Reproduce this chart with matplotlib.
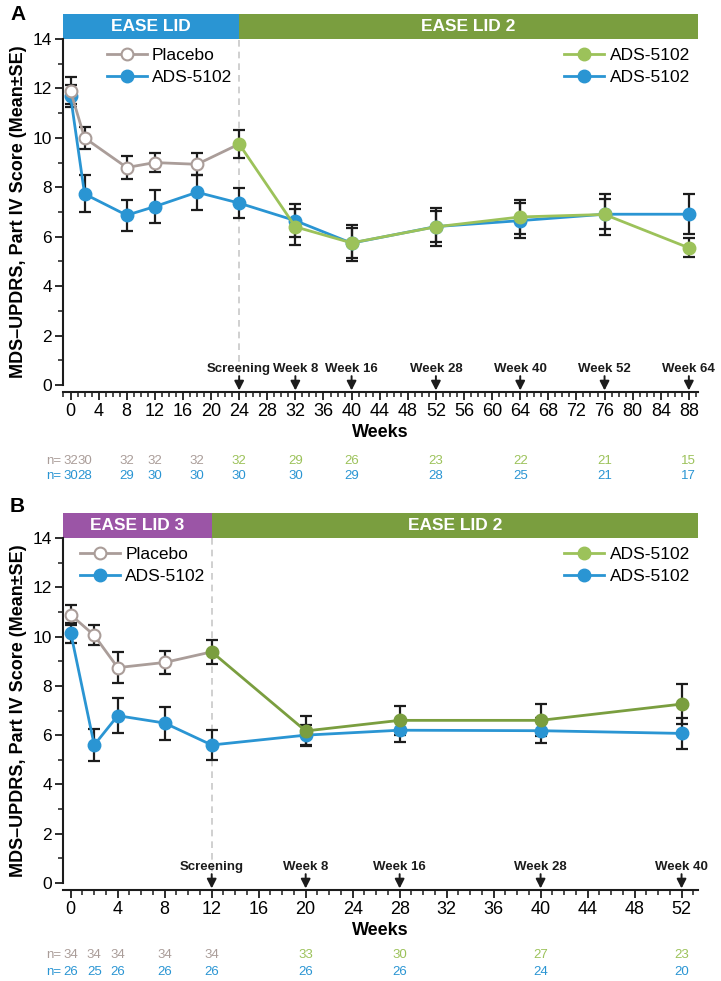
import matplotlib.pyplot as plt
from matplotlib import font_manager
from matplotlib.lines import Line2D
from matplotlib.patches import Rectangle
from matplotlib.ticker import MultipleLocator
import matplotlib.transforms as mtransforms

plt.rcParams['font.family'] = ['Liberation Sans', 'DejaVu Sans']
installed = {f.name for f in font_manager.fontManager.ttflist}
HAS_NARROW = 'Liberation Sans Narrow' in installed
NARROW = ['Liberation Sans Narrow', 'Liberation Sans', 'DejaVu Sans'] if HAS_NARROW \
    else ['Liberation Sans', 'DejaVu Sans']
N_SIZE = 11 if HAS_NARROW else 9.5

BLUE = '#2a95d3'
GREEN_LT = '#9cc25a'
GREEN_DK = '#7a9e3f'
PURPLE = '#9b55a6'
PLAC = '#aa9d99'
INK = '#1c1c1c'

# ---- Panel A: EASE LID -> EASE LID 2 ----
a_plac_wk = [0, 2, 8, 12, 18]
a_plac_val = [11.9, 10.0, 8.8, 9.0, 8.93]
a_plac_err = [0.55, 0.45, 0.45, 0.38, 0.45]
a_ext_wk = [24, 32, 40, 52, 64, 76, 88]
a_ext_val = [9.75, 6.4, 5.75, 6.4, 6.8, 6.9, 5.55]
a_ext_err = [0.55, 0.73, 0.72, 0.78, 0.7, 0.82, 0.38]
a_ads_wk = [0, 2, 8, 12, 18, 24, 32, 40, 52, 64, 76, 88]
a_ads_val = [11.7, 7.73, 6.87, 7.22, 7.8, 7.36, 6.65, 5.74, 6.41, 6.65, 6.91, 6.91]
a_ads_err = [0.45, 0.75, 0.63, 0.65, 0.7, 0.6, 0.68, 0.62, 0.62, 0.72, 0.6, 0.8]
a_marks = [24, 32, 40, 52, 64, 76, 88]
a_mark_lbl = ['Screening', 'Week 8', 'Week 16', 'Week 28', 'Week 40', 'Week 52', 'Week 64']
a_n_wk = [0, 2, 8, 12, 18, 24, 32, 40, 52, 64, 76, 88]
a_n_top = [32, 30, 32, 32, 32, 32, 29, 26, 23, 22, 21, 15]
a_n_bot = [30, 28, 29, 30, 30, 30, 30, 29, 28, 25, 21, 17]

# ---- Panel B: EASE LID 3 -> EASE LID 2 ----
b_plac_wk = [0, 2, 4, 8]
b_plac_val = [10.88, 10.05, 8.74, 8.95]
b_plac_err = [0.42, 0.4, 0.62, 0.48]
b_ext_wk = [12, 20, 28, 40, 52]
b_ext_val = [9.38, 6.17, 6.6, 6.6, 7.26]
b_ext_err = [0.5, 0.62, 0.58, 0.65, 0.82]
b_ads_wk = [0, 2, 4, 8, 12, 20, 28, 40, 52]
b_ads_val = [10.15, 5.6, 6.79, 6.49, 5.6, 6.0, 6.2, 6.18, 6.07]
b_ads_err = [0.4, 0.65, 0.7, 0.67, 0.6, 0.42, 0.47, 0.5, 0.63]
b_marks = [12, 20, 28, 40, 52]
b_mark_lbl = ['Screening', 'Week 8', 'Week 16', 'Week 28', 'Week 40']
b_n_wk = [0, 2, 4, 8, 12, 20, 28, 40, 52]
b_n_top = [34, 34, 34, 34, 34, 33, 30, 27, 23]
b_n_bot = [26, 25, 26, 26, 26, 26, 26, 24, 20]

fig = plt.figure(figsize=(7.21, 9.81), dpi=100)
W, H = 721, 981
axA = fig.add_axes([63 / W, 1 - 385 / H, 635 / W, 346 / H])
axB = fig.add_axes([63 / W, 1 - 883 / H, 635 / W, 345 / H])


def panel(ax, xlim, split, first_name, first_col, ext_col,
          plac_wk, plac_val, plac_err, ext_wk, ext_val, ext_err,
          ads_wk, ads_val, ads_err, marks, mark_lbl,
          n_wk, n_top, n_bot, n_grey, n_y, leg_x):
    ax.set_xlim(*xlim)
    ax.set_ylim(0, 14)
    eb = dict(fmt='none', ecolor=INK, elinewidth=1.6, capsize=4, capthick=1.6, zorder=2)
    ax.errorbar(ads_wk, ads_val, yerr=ads_err, **eb)
    ax.errorbar(plac_wk, plac_val, yerr=plac_err, **eb)
    ax.errorbar(ext_wk, ext_val, yerr=ext_err, **eb)

    ax.plot(ads_wk, ads_val, color=BLUE, lw=2, marker='o', ms=9, zorder=3)
    ax.plot(plac_wk + ext_wk[:1], plac_val + ext_val[:1], color=PLAC, lw=2,
            marker='o', ms=8.5, mfc='white', mec=PLAC, mew=1.5,
            markevery=list(range(len(plac_wk))), zorder=3)
    ax.plot(ext_wk, ext_val, color=ext_col, lw=2, marker='o', ms=9, zorder=4)

    ax.axvline(split, color='#c8c8c8', lw=1.2, dashes=(4, 3), zorder=1)

    # study header bars
    ax.add_patch(Rectangle((xlim[0], 14), split - xlim[0], 1.0, color=first_col,
                           clip_on=False, lw=0))
    ax.add_patch(Rectangle((split, 14), xlim[1] - split, 1.0, color=GREEN_DK,
                           clip_on=False, lw=0))
    ax.text((xlim[0] + split) / 2, 14.5, first_name, color='white', fontsize=12.5,
            fontweight='bold', ha='center', va='center')
    ax.text((split + xlim[1]) / 2, 14.5, 'EASE LID 2', color='white', fontsize=12.5,
            fontweight='bold', ha='center', va='center')

    # visit arrows
    for w, lbl in zip(marks, mark_lbl):
        ax.annotate('', xy=(w, -0.22), xytext=(w, 0.36), annotation_clip=False,
                    arrowprops=dict(arrowstyle='-|>,head_length=0.55,head_width=0.28',
                                    color=INK, lw=1.4, shrinkA=0, shrinkB=0))
        ax.text(w, 0.42, lbl, ha='center', va='bottom', fontsize=9.5,
                fontweight='bold', family=NARROW, color=INK)

    # axes styling
    for s in ['top', 'right']:
        ax.spines[s].set_visible(False)
    ax.spines['left'].set_bounds(0, 14)
    ax.spines['bottom'].set_position(('outward', 5))
    for s in ['left', 'bottom']:
        ax.spines[s].set_linewidth(1.5)
        ax.spines[s].set_color(INK)
    ax.xaxis.set_major_locator(MultipleLocator(4))
    ax.xaxis.set_minor_locator(MultipleLocator(1))
    ax.yaxis.set_major_locator(MultipleLocator(2))
    ax.yaxis.set_minor_locator(MultipleLocator(1))
    ax.tick_params(axis='both', which='major', length=6, width=1.3, color=INK)
    ax.tick_params(axis='both', which='minor', length=3.5, width=1.1, color=INK)
    ax.tick_params(axis='y', labelsize=12.5, pad=2)
    ax.tick_params(axis='x', labelsize=13, pad=2)
    for t in ax.get_xticklabels():
        t.set_family(NARROW)
    ax.set_xlabel('Weeks', fontsize=13, fontweight='bold', labelpad=3)
    ax.set_ylabel('MDS–UPDRS, Part IV Score (Mean±SE)', fontsize=13,
                  fontweight='bold')
    ax.yaxis.set_label_coords(-0.056, 0.5)

    # legends
    h_left = [Line2D([], [], color=PLAC, lw=2, marker='o', ms=8.5, mfc='white',
                     mec=PLAC, mew=1.5),
              Line2D([], [], color=BLUE, lw=2, marker='o', ms=9)]
    leg1 = ax.legend(h_left, ['Placebo', 'ADS-5102'], loc='upper left',
                     bbox_to_anchor=(leg_x, 0.975), frameon=False, fontsize=12.5,
                     handlelength=2.3, handletextpad=0.3, labelspacing=0.4,
                     borderpad=0, borderaxespad=0)
    ax.add_artist(leg1)
    h_right = [Line2D([], [], color=GREEN_LT, lw=2, marker='o', ms=9),
               Line2D([], [], color=BLUE, lw=2, marker='o', ms=9)]
    ax.legend(h_right, ['ADS-5102', 'ADS-5102'], loc='upper right',
              bbox_to_anchor=(0.987, 0.975), frameon=False, fontsize=12.5,
              handlelength=2.3, handletextpad=0.3, labelspacing=0.4,
              borderpad=0, borderaxespad=0)

    # numbers at risk
    tr = mtransforms.blended_transform_factory(ax.transData, fig.transFigure)
    y1, y2 = 1 - n_y[0] / H, 1 - n_y[1] / H
    fig.text(61 / W, y1, 'n=', color=PLAC, fontsize=N_SIZE, family=NARROW,
             ha='right', va='center')
    fig.text(61 / W, y2, 'n=', color=BLUE, fontsize=N_SIZE, family=NARROW,
             ha='right', va='center')
    for i, (w, a, b) in enumerate(zip(n_wk, n_top, n_bot)):
        c = PLAC if i < n_grey else GREEN_LT
        ax.text(w, y1, str(a), transform=tr, color=c, fontsize=N_SIZE, family=NARROW,
                ha='center', va='center')
        ax.text(w, y2, str(b), transform=tr, color=BLUE, fontsize=N_SIZE, family=NARROW,
                ha='center', va='center')


panel(axA, (-1.07, 89.3), 24, 'EASE LID', BLUE, GREEN_LT,
      a_plac_wk, a_plac_val, a_plac_err, a_ext_wk, a_ext_val, a_ext_err,
      a_ads_wk, a_ads_val, a_ads_err, a_marks, a_mark_lbl,
      a_n_wk, a_n_top, a_n_bot, 5, (461, 476), 0.069)
panel(axB, (-0.66, 53.4), 12, 'EASE LID 3', PURPLE, GREEN_DK,
      b_plac_wk, b_plac_val, b_plac_err, b_ext_wk, b_ext_val, b_ext_err,
      b_ads_wk, b_ads_val, b_ads_err, b_marks, b_mark_lbl,
      b_n_wk, b_n_top, b_n_bot, 5, (955, 972), 0.027)

fig.text(10 / W, 1 - 15 / H, 'A', fontsize=15, fontweight='bold', va='center')
fig.text(10 / W, 1 - 507 / H, 'B', fontsize=15, fontweight='bold', va='center')

fig.savefig('out.png', dpi=100)
